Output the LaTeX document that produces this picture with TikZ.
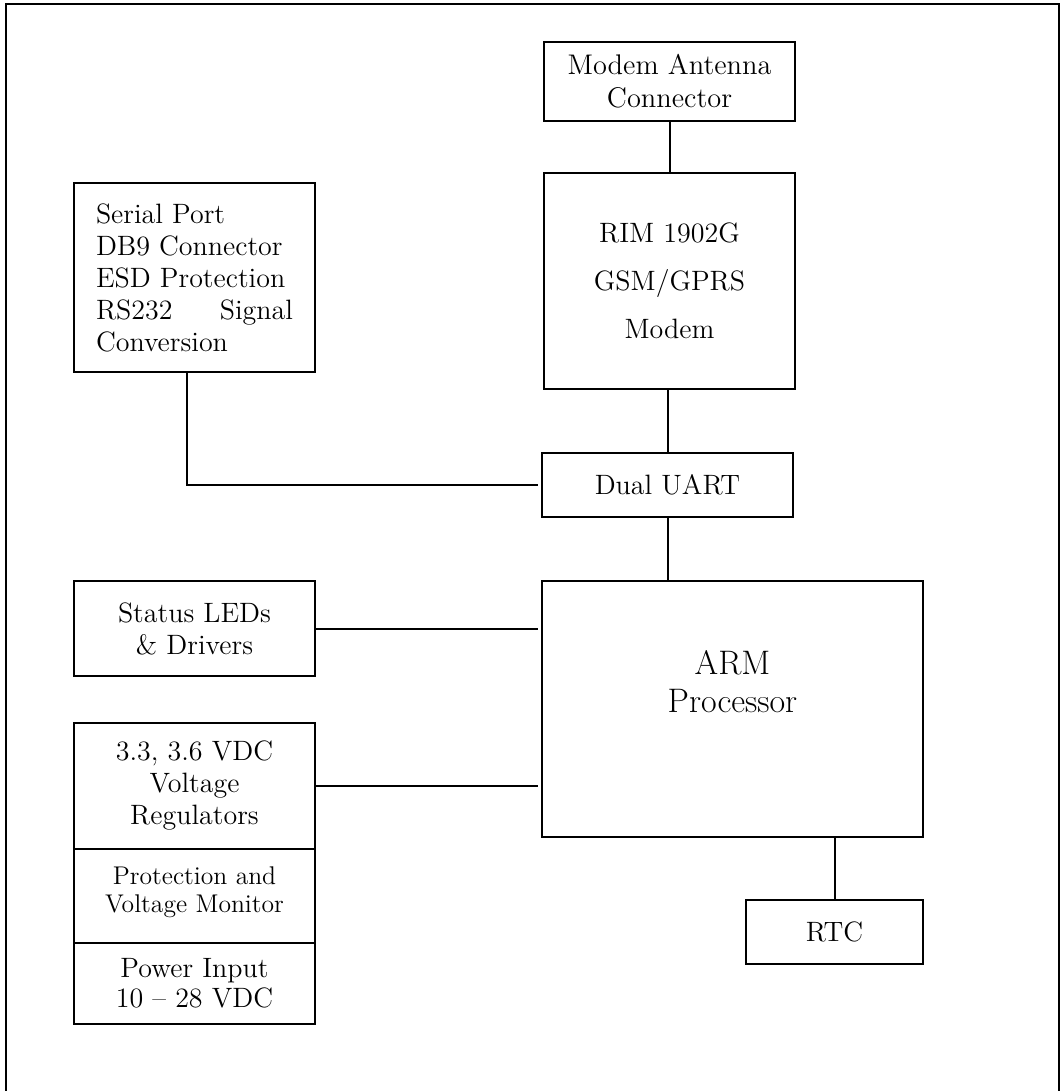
\documentclass[tikz,border=0pt]{standalone}
\usetikzlibrary{positioning}

\tikzset{every picture/.style={line width=1pt}}
\tikzset{
  blk/.style={draw, rectangle, inner sep=0pt, align=center, font=\fontsize{14}{16}\selectfont},
  txt/.style={inner sep=0pt, align=center},
}

\begin{document}
\begin{tikzpicture}[x=0.5pt,y=0.5pt,yscale=-1,xscale=1]
\useasboundingbox (0,0) rectangle (1061,1091);

%Shape: Frame, open at the bottom
\draw [line width=0.8pt] (6,1091) -- (6,4) -- (1059,4) -- (1059,1091);

%Shape: Rectangle, modem side
\node [blk, minimum width=125.5pt, minimum height=39.5pt, font=\fontsize{14.2}{16.5}\selectfont] (ant) at (669.5,81.5) {Modem Antenna\\Connector};
\node [blk, minimum width=125.5pt, minimum height=108pt, font=\fontsize{14}{24}\selectfont] (rim) at (669.5,281) {RIM 1902G\\GSM/GPRS\\Modem};
\node [blk, minimum width=125.5pt, minimum height=32pt] (uart) at (667.5,485) {Dual UART};
\node [blk, minimum width=190.5pt, minimum height=128pt] (arm) at (732.5,709) {};
\node [blk, minimum width=88.5pt, minimum height=32pt] (rtc) at (834.5,932) {RTC};

%Shape: Rectangle, left column
\node [blk, minimum width=120.5pt, minimum height=94.5pt, text width=98.5pt, inner xsep=11pt, align=justify] (serial) at (194.5,277.5) {\hyphenpenalty=10000 Serial Port\\DB9 Connector\\ESD Protection\\RS232 Signal Conversion};
\node [blk, minimum width=120.5pt, minimum height=47.5pt] (leds) at (194.5,628.5) {Status LEDs\\\& Drivers};
\node [blk, minimum width=120.5pt, minimum height=63pt] (volt) at (194.5,786) {3.3, 3.6 VDC\\Voltage\\Regulators};
\node [blk, minimum width=120.5pt, minimum height=47pt] (prot) at (194.5,896) {};
\node [blk, minimum width=120.5pt, minimum height=40.5pt, font=\fontsize{14}{15}\selectfont] (power) at (194.5,983.5) {Power Input\\10 -- 28 VDC};

% Text Node
\node [txt, anchor=north, font=\fontsize{17}{19}\selectfont] (armtext) at (732.5,649) {ARM\\Processor};
% Text Node
\node [txt, anchor=north, font=\fontsize{12.8}{14}\selectfont] (prottext) at (194.5,866) {Protection and\\Voltage Monitor};

%Straight Lines
\draw (ant) -- (rim);
\draw (uart.north) -- (uart.north |- rim.south);
\draw (uart.south) -- (uart.south |- arm.north);
\draw (rtc.north) -- (rtc.north |- arm.south);
\draw [shorten >=1.5pt] ([xshift=-3.75pt]serial.south) |- (uart.west);
\draw [shorten >=1.5pt] (leds.east) -- (leds.east -| arm.west);
\draw [shorten >=1.5pt] (volt.east) -- (volt.east -| arm.west);

\end{tikzpicture}
\end{document}
